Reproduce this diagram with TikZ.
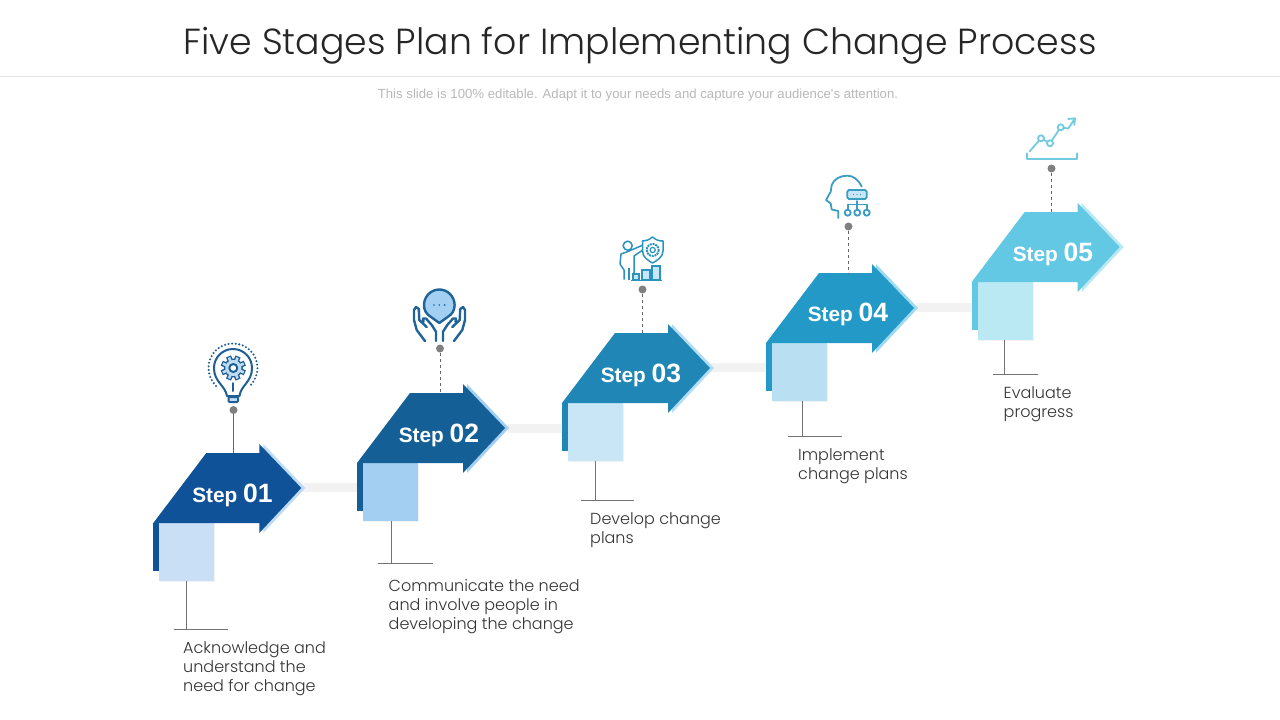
\documentclass[tikz,border=0pt]{standalone}
\usepackage{fontspec}
\setmainfont{Poppins Light}
\newfontfamily\arialfont{Liberation Sans}
\usetikzlibrary{shadows}

\definecolor{stagea}{HTML}{0F5298}
\definecolor{stageb}{HTML}{135F96}
\definecolor{stagec}{HTML}{1F86B5}
\definecolor{staged}{HTML}{2299C6}
\definecolor{stagee}{HTML}{62C8E4}
\definecolor{boxa}{HTML}{C9DFF6}
\definecolor{boxb}{HTML}{A3CFF2}
\definecolor{boxc}{HTML}{C9E6F6}
\definecolor{boxd}{HTML}{B8E0F2}
\definecolor{boxe}{HTML}{BAE8F3}
\definecolor{edgea}{HTML}{BFDCF5}
\definecolor{edgeb}{HTML}{A3CFF2}
\definecolor{edgec}{HTML}{B3DDF2}
\definecolor{edged}{HTML}{9FDAEE}
\definecolor{edgee}{HTML}{BAE8F3}
\definecolor{icona}{HTML}{1F5F96}
\definecolor{iconb}{HTML}{1F6498}
\definecolor{iconc}{HTML}{2B93C0}
\definecolor{icond}{HTML}{3A9DC4}
\definecolor{icone}{HTML}{72CBE0}

\tikzset{
  headline/.style={font=\fontsize{36.3}{44}\selectfont,text=black!85},
  subline/.style={font=\arialfont\fontsize{13.2}{15}\selectfont,text=black!28},
  stagetext/.style={font=\fontsize{16}{19}\selectfont,text=black!80,align=left,anchor=north west,inner sep=0pt},
  steptext/.style={font=\arialfont\bfseries\fontsize{20.8}{24}\selectfont,text=white,inner sep=0pt},
  stagebox/.style={minimum width=55pt,minimum height=57.5pt,inner sep=0pt,
    drop shadow={shadow xshift=1pt,shadow yshift=-1pt,opacity=.05,fill=black}},
  band/.style={line width=9pt,color=black!5},
  pindot/.style={circle,fill=black!50,minimum size=8pt,inner sep=0pt},
  pinline/.style={color=black!60,line width=.8pt},
  footline/.style={color=black!55,line width=.8pt},
  iconline/.style={line width=2pt,line join=round,line cap=round},
}

\newcommand{\stagearrow}[6]{%
  \begin{scope}[shift={(#2,#3)}]
    \fill[#6] (110,-79) -- (152,-35) -- (110,10) -- cycle;
    \fill[#4] (0,0) -- (0,47.5) -- (6,47.5) -- (6,0) -- cycle;
    \node[stagebox,fill=#5] (box#1) at (33.5,28.75) {};
    \fill[#4] (0,0) -- (53,-70) -- (106,-70) -- (106,-79) -- (148,-35) -- (106,10) -- (106,0) -- cycle;
    \coordinate (top#1) at (53,-70);
  \end{scope}}

\begin{document}
\begin{tikzpicture}[x=1pt,y=-1pt]
  \useasboundingbox (0,0) rectangle (1280,720);

  \node[headline] (title) at (640,46) {Five Stages Plan for Implementing Change Process};
  \coordinate (rulel) at (0,76);
  \coordinate (ruler) at (1280,76);
  \draw[black!10,line width=.8pt] (rulel) -- (ruler);
  \node[subline] (subtitle) at (638,95) {This slide is 100\% editable. Adapt it to your needs and capture your audience's attention.};

  % bands between the stages
  \coordinate (banda) at (302,487);
  \coordinate (bandb) at (508,428);
  \coordinate (bandc) at (711,367);
  \coordinate (bandd) at (917,307);
  \draw[band] (banda) -- ++(55,0);
  \draw[band] (bandb) -- ++(55,0);
  \draw[band] (bandc) -- ++(55,0);
  \draw[band] (bandd) -- ++(55,0);

  \stagearrow{a}{153.3}{523}{stagea}{boxa}{edgea}
  \stagearrow{b}{357}{463}{stageb}{boxb}{edgeb}
  \stagearrow{c}{562}{403}{stagec}{boxc}{edgec}
  \stagearrow{d}{766}{343}{staged}{boxd}{edged}
  \stagearrow{e}{971.7}{282}{stagee}{boxe}{edgee}

  \node[steptext] (stepa) at (232.5,495) {Step \fontsize{26.5}{26}\selectfont 01};
  \node[steptext] (stepb) at (439,435) {Step \fontsize{26.5}{26}\selectfont 02};
  \node[steptext] (stepc) at (641,375) {Step \fontsize{26.5}{26}\selectfont 03};
  \node[steptext] (stepd) at (848,314) {Step \fontsize{26.5}{26}\selectfont 04};
  \node[steptext] (stepe) at (1053,254) {Step \fontsize{26.5}{26}\selectfont 05};

  \node[pindot] (dota) at (233.5,410) {};
  \node[pindot] (dotb) at (440,348.5) {};
  \node[pindot] (dotc) at (642.5,289.5) {};
  \node[pindot] (dotd) at (848.5,226.5) {};
  \node[pindot] (dote) at (1051.5,168.5) {};
  \draw[pinline] (dota) -- (dota |- topa);
  \draw[pinline,dashed] (dotb) -- (dotb |- topb);
  \draw[pinline,dashed] (dotc) -- (dotc |- topc);
  \draw[pinline,dashed] (dotd) -- (dotd |- topd);
  \draw[pinline,dashed] (dote) -- (dote |- tope);

  \coordinate (foota) at (186.5,629.5);
  \coordinate (footb) at (391.5,563.5);
  \coordinate (footc) at (595,500.5);
  \coordinate (footd) at (802,436.5);
  \coordinate (foote) at (1004.5,374.5);
  \draw[footline] (foota |- boxa.south) -- (foota);
  \draw[footline] (footb |- boxb.south) -- (footb);
  \draw[footline] (footc |- boxc.south) -- (footc);
  \draw[footline] (footd |- boxd.south) -- (footd);
  \draw[footline] (foote |- boxe.south) -- (foote);
  \draw[footline] ([xshift=-13pt]foota) -- ([xshift=41pt]foota);
  \draw[footline] ([xshift=-14pt]footb) -- ([xshift=41pt]footb);
  \draw[footline] ([xshift=-14pt]footc) -- ([xshift=39pt]footc);
  \draw[footline] ([xshift=-14pt]footd) -- ([xshift=40pt]footd);
  \draw[footline] ([xshift=-12pt]foote) -- ([xshift=33pt]foote);

  \node[stagetext] (texta) at (183,641) {Acknowledge and\\understand the\\need for change};
  \node[stagetext] (textb) at (388.5,579) {Communicate the need\\and involve people in\\developing the change};
  \node[stagetext] (textc) at (590,512) {Develop change\\plans};
  \node[stagetext] (textd) at (798,448) {Implement\\change plans};
  \node[stagetext] (texte) at (1003.5,386) {Evaluate\\progress};

  % icon 1
  \draw[icona,line width=2.3pt,dash pattern=on 0pt off 3.6pt,line cap=round] (216,386) .. controls (211,380) and (208.5,375) .. (208.5,368) .. controls (208.5,354) and (219.5,343.5) .. (233,343.5) .. controls (246.5,343.5) and (257.5,354) .. (257.5,368) .. controls (257.5,375) and (255,380) .. (250,386);
  \draw[iconline,icona] (214,368) .. controls (214,357.5) and (222.5,349) .. (233,349) .. controls (243.5,349) and (252,357.5) .. (252,368) .. controls (252,382) and (241,385) .. (239.5,396) -- (227,396) .. controls (225,385) and (214,382) .. (214,368) -- cycle;
  \draw[iconline,icona,fill=edgea,rounded corners=1pt] (228.5,397) rectangle (238,402);
  \foreach \ang in {0,45,...,315} \draw[line width=5.4pt,icona] (233.3,368) ++(\ang+22.5:8) -- ++(\ang+22.5:4.5);
  \fill[icona] (233.3,368) circle (9.5);
  \foreach \ang in {0,45,...,315} \draw[line width=2.6pt,edgea] (233.3,368) ++(\ang+22.5:7) -- ++(\ang+22.5:4.3);
  \fill[edgea] (233.3,368) circle (8);
  \draw[iconline,icona,fill=white] (233.3,368) circle (4);
  \draw[iconline,icona] (233.3,383) -- (233.3,391);

  % icon 2
  \draw[line width=2.4pt,iconb,fill=boxb,line join=round] (439.3,323) -- (431,317) .. controls (426,314) and (424,310) .. (424,305) .. controls (424,296.5) and (431,289.5) .. (439.3,289.5) .. controls (447.6,289.5) and (454.6,296.5) .. (454.6,305) .. controls (454.6,310) and (452.6,314) .. (447.6,317) -- cycle;
  \fill[iconb] (434,305) circle (.9) (439.3,305) circle (.9) (444.6,305) circle (.9);
  \foreach \m in {1,-1} {
    \begin{scope}[shift={({439.5-\m*439.5},0)},xscale=\m]
      \draw[line width=2.4pt,iconb,line join=round,line cap=round] (425,341) -- (416.7,330) -- (414,320) -- (414,310) -- (416,307) -- (418.8,309) -- (419.3,320) -- (426.7,327);
      \draw[line width=2.4pt,iconb,line join=round,line cap=round] (436,341) -- (436,331.7) -- (431.7,325) -- (426,318.5) -- (423,318.5) -- (423.5,322);
    \end{scope}}

  % icon 3
  \draw[line width=1.5pt,iconc] (627.7,245.7) circle (4.5);
  \draw[line width=1.5pt,iconc,line join=round] (624,279.5) -- (624,270) -- (620,264) -- (621,254) -- (628,251.5) -- (643,245) -- (645,248.5) -- (634,256) -- (634,273) -- (633,273);
  \draw[line width=1.5pt,iconc] (629,279.5) -- (629,268);
  \draw[line width=1.5pt,iconc,fill=white,line join=round] (652.5,237) .. controls (649,240) and (646,241) .. (642.5,241) -- (642.5,251) .. controls (642.5,257) and (648,260.5) .. (652.5,263) .. controls (657,260.5) and (663,257) .. (663,251) -- (663,241) .. controls (659,241) and (656,240) .. (652.5,237) -- cycle;
  \draw[line width=1.9pt,iconc,dash pattern=on 2pt off .8pt] (652.7,250) circle (6);
  \draw[line width=1.2pt,iconc] (652.7,250) circle (2.6);
  \draw[line width=1.5pt,iconc,fill=boxc] (633,274) rectangle (639,280);
  \draw[line width=1.5pt,iconc,fill=boxc] (642,270) rectangle (650,280);
  \draw[line width=1.5pt,iconc,fill=boxc] (652,266) rectangle (660,280);
  \draw[line width=1.5pt,iconc] (631,280.3) -- (662,280.3);

  % icon 4
  \draw[iconline,line width=1.8pt,icond] (838.3,218) -- (838.3,211) -- (831.7,209.5) -- (830.7,203.5) -- (826,200) -- (830.7,191.7) -- (831.7,185) .. controls (834,179) and (840,175.7) .. (847.3,175.7) .. controls (853,175.7) and (858,179) .. (861.7,186.7);
  \draw[iconline,line width=1.8pt,icond,fill=boxc,rounded corners=1.5pt] (847.3,190) rectangle (866.7,199);
  \fill[icond] (853.5,194.5) circle (.7) (857,194.5) circle (.7) (860.5,194.5) circle (.7);
  \draw[iconline,line width=1.8pt,icond] (857.3,201) -- (857.3,210) (847.7,210) -- (847.7,204.5) -- (866.7,204.5) -- (866.7,210);
  \draw[iconline,line width=1.8pt,icond] (847.7,212.7) circle (3) (857.3,212.7) circle (3) (866.7,212.7) circle (3);

  % icon 5
  \draw[iconline,line width=1.8pt,icone] (1026.7,153.3) -- (1026.7,159) -- (1076.7,159) -- (1076.7,153.3);
  \draw[iconline,line width=1.8pt,icone] (1029.5,151.5) -- (1041,138.3) -- (1050,143.3) -- (1060.7,127.3) -- (1068.3,128.5) -- (1075,118.3) (1068.3,119) -- (1075,118.3) -- (1074.3,125);
  \draw[iconline,line width=1.8pt,icone,fill=white] (1041,138.3) circle (3) (1050,143.3) circle (3) (1060.7,127.3) circle (3);
\end{tikzpicture}
\end{document}
